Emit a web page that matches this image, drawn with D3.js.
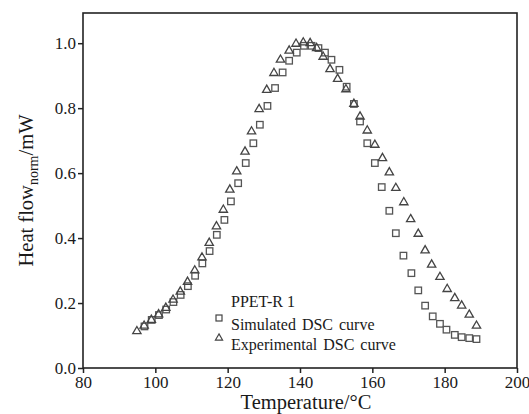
<!DOCTYPE html>
<html>
<head>
<meta charset="utf-8">
<script src="https://cdn.jsdelivr.net/npm/d3@7"></script>
<style>
  body { margin: 0; background: #fff; }
  text { font-family: "Liberation Serif", "Times New Roman", serif; fill: #1a1a1a; }
</style>
</head>
<body>
<div id="chart"></div>
<script>
// simulated DSC curve (squares)
var simT = [97, 99, 101, 103, 105, 107, 109, 111, 113, 115, 117, 119.1, 120.9, 122.9, 125, 127.1,
    128.9, 131, 133.1, 135.2, 137, 139.1, 141.1, 143.2, 145.1, 146.9, 148.7, 150.9, 152.9, 154.9,
    156.6, 158.6, 160.7, 162.6, 164.7, 166.5, 168.6, 170.8, 172.7, 174.6, 176.7, 178.7, 180.5,
    182.8, 184.7, 186.8, 188.8];
var simV = [0.128, 0.148, 0.163, 0.180, 0.203, 0.225, 0.252, 0.284, 0.322, 0.360, 0.410, 0.456, 0.513,
    0.569, 0.631, 0.692, 0.749, 0.807, 0.862, 0.910, 0.946, 0.971, 0.992, 0.992, 0.985, 0.971,
    0.949, 0.918, 0.866, 0.813, 0.759, 0.692, 0.631, 0.557, 0.484, 0.415, 0.346, 0.292, 0.239,
    0.192, 0.159, 0.136, 0.118, 0.102, 0.095, 0.092, 0.089];

// experimental DSC curve (triangles)
var expT = [94.9, 96.9, 98.9, 100.9, 102.9, 104.9, 106.9, 108.9, 110.9, 112.9, 114.9, 116.9, 118.8,
    120.6, 122.5, 124.8, 126.6, 128.7, 130.8, 132.8, 134.6, 137, 138.9, 140.9, 142.8, 144.6, 146.4,
    148.3, 150.4, 152.7, 154.9, 156.6, 158.6, 160.7, 162.8, 164.7, 166.5, 168.7, 170.6, 172.7,
    174.6, 176.4, 178.7, 180.7, 182.8, 184.7, 186.8, 188.8];
var expV = [0.113, 0.130, 0.148, 0.165, 0.185, 0.210, 0.235, 0.265, 0.300, 0.340, 0.385, 0.436, 0.487,
    0.549, 0.605, 0.666, 0.728, 0.797, 0.856, 0.908, 0.949, 0.977, 0.998, 1.002, 1.000, 0.985,
    0.958, 0.920, 0.890, 0.858, 0.813, 0.774, 0.731, 0.687, 0.646, 0.602, 0.554, 0.510, 0.458,
    0.413, 0.362, 0.318, 0.280, 0.243, 0.215, 0.192, 0.164, 0.130];

var xTicks = [80, 100, 120, 140, 160, 180, 200];
var yTicks = [0.0, 0.2, 0.4, 0.6, 0.8, 1.0];
var legendTitle = 'PPET-R 1';
var legendLabels = ['Simulated DSC curve', 'Experimental DSC curve'];

var svgWidth = 529;
var svgHeight = 414;
var margin = { top: 13, right: 12, bottom: 46, left: 83 };
var width = svgWidth - margin.left - margin.right;
var height = svgHeight - margin.top - margin.bottom;

var svg = d3.select('#chart')
    .append('svg')
    .attr('width', svgWidth)
    .attr('height', svgHeight);

var chartGroup = svg.append('g')
    .attr('transform', `translate(${margin.left},${margin.top})`);

var x = d3.scaleLinear().domain([80, 200]).range([0, width]);
var y = d3.scaleLinear().domain([0, 1.093]).range([height, 0]);

// axes
var bottomAxis = d3.axisBottom(x).tickValues(xTicks).tickSize(5).tickPadding(3)
    .tickFormat(d3.format('d'));
var leftAxis = d3.axisLeft(y).tickValues(yTicks).tickSize(5).tickPadding(2)
    .tickFormat(d3.format('.1f'));

var gx = chartGroup.append('g')
    .attr('transform', `translate(0,${height})`)
    .call(bottomAxis);
var gy = chartGroup.append('g').call(leftAxis);

[gx, gy].forEach(function(g) {
    g.select('.domain').remove();
    g.selectAll('.tick line').attr('stroke', '#222').attr('stroke-width', 1.5);
    g.selectAll('.tick text')
        .style('font-family', '"Liberation Serif", "Times New Roman", serif')
        .style('font-size', '17px')
        .attr('fill', '#222');
});

// frame
chartGroup.append('rect')
    .attr('width', width)
    .attr('height', height)
    .attr('fill', 'none')
    .attr('stroke', '#222')
    .attr('stroke-width', 1.6);

// markers
var simData = simT.map((t, i) => ({ t: t, v: simV[i] }));
var expData = expT.map((t, i) => ({ t: t, v: expV[i] }));

var sq = 6.5;
chartGroup.selectAll('.sim')
    .data(simData)
    .enter()
    .append('rect')
    .attr('class', 'sim')
    .attr('x', d => x(d.t) - sq / 2)
    .attr('y', d => y(d.v) - sq / 2)
    .attr('width', sq)
    .attr('height', sq)
    .attr('fill', 'none')
    .attr('stroke', '#555')
    .attr('stroke-width', 1.3);

var tri = d3.symbol().type(d3.symbolTriangle).size(30);
chartGroup.selectAll('.exp')
    .data(expData)
    .enter()
    .append('path')
    .attr('class', 'exp')
    .attr('d', tri)
    .attr('transform', d => `translate(${x(d.t)},${y(d.v)})`)
    .attr('fill', 'none')
    .attr('stroke', '#444')
    .attr('stroke-width', 1.3);

// legend
var legend = svg.append('g');
legend.append('text')
    .attr('x', 231)
    .attr('y', 307)
    .style('font-size', '16px')
    .text(legendTitle);
legend.append('rect')
    .attr('x', 216)
    .attr('y', 315)
    .attr('width', 6)
    .attr('height', 6)
    .attr('fill', 'none')
    .attr('stroke', '#444')
    .attr('stroke-width', 1.2);
legend.append('path')
    .attr('d', d3.symbol().type(d3.symbolTriangle).size(22))
    .attr('transform', 'translate(219,338)')
    .attr('fill', 'none')
    .attr('stroke', '#444')
    .attr('stroke-width', 1.2);
legendLabels.forEach(function(l, i) {
    legend.append('text')
        .attr('x', 231)
        .attr('y', 330 + i * 20)
        .style('font-size', '16px')
        .style('word-spacing', '2px')
        .text(l);
});

// axis titles
svg.append('text')
    .attr('x', 306)
    .attr('y', 409)
    .attr('text-anchor', 'middle')
    .style('font-size', '20.5px')
    .text('Temperature/°C');

var yTitle = svg.append('text')
    .attr('transform', `translate(33,${margin.top + height / 2}) rotate(-90)`)
    .attr('text-anchor', 'middle')
    .style('font-size', '20.5px');
yTitle.append('tspan').text('Heat flow');
yTitle.append('tspan').attr('dy', 5).style('font-size', '14px').text('norm');
yTitle.append('tspan').attr('dy', -5).text('/mW');
</script>
</body>
</html>
